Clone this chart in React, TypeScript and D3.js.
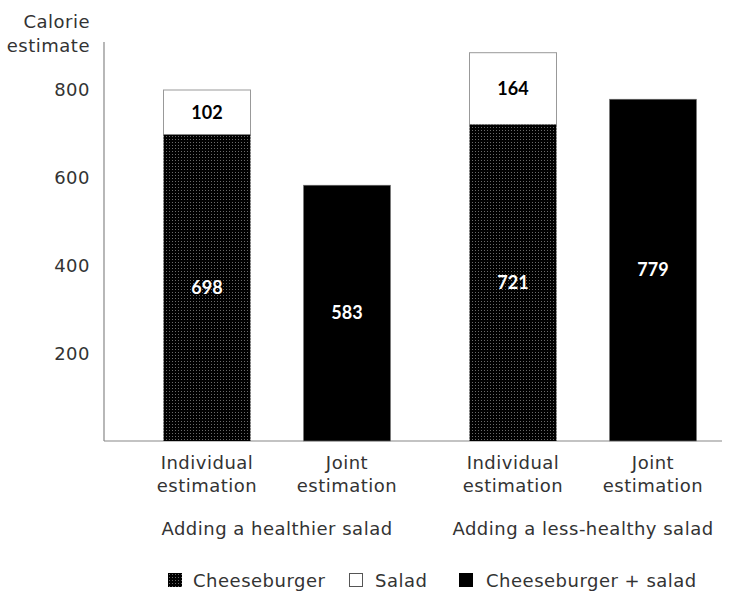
import React from "react";
import * as d3 from "d3";

const groups = ["Adding a healthier salad", "Adding a less-healthy salad"];
const conditions = ["Individual estimation", "Joint estimation"];
// cheeseburger values for individual estimation
const cheeseburger = [698, 721];
// salad values for individual estimation
const salad = [102, 164];
// joint estimation
const joint = [583, 779];
const yTicks = [200, 400, 600, 800];

const W = 733;
const H = 594;
const FONT = "'DejaVu Sans', sans-serif";
const BFONT = "Lato, 'Noto Sans', sans-serif";
const LS = 0.5;

export default function App() {
  const y = d3.scaleLinear().domain([0, 800]).range([441, 90]);
  const xg = d3.scalePoint<string>().domain(groups).range([277, 583]);
  const xi = d3
    .scaleBand<string>()
    .domain(conditions)
    .range([-113.5, 113.5])
    .paddingInner(53 / 140)
    .paddingOuter(0);
  const bw = xi.bandwidth();
  const axisColor = "#888";
  const textColor = "#333";

  const txt = { fontFamily: FONT, fontSize: 18, fill: textColor, letterSpacing: LS } as const;

  return (
    <svg width={W} height={H} style={{ position: "absolute", left: 0, top: 0 }}>
      <defs>
        <pattern id="dots" width={3} height={3} patternUnits="userSpaceOnUse">
          <rect width={3} height={3} fill="#000" />
          <rect x={1} y={1} width={1} height={1} fill="#6a6a6a" />
        </pattern>
      </defs>
      <rect width={W} height={H} fill="#fff" />
      {/* axes */}
      <line x1={104} x2={104} y1={42} y2={441} stroke={axisColor} strokeWidth={1.2} />
      <line x1={104} x2={722} y1={441} y2={441} stroke={axisColor} strokeWidth={1.2} />
      <text x={90} y={28} textAnchor="end" {...txt}>
        Calorie
      </text>
      <text x={90} y={52} textAnchor="end" {...txt}>
        estimate
      </text>
      {yTicks.map((t) => (
        <text key={t} x={90} y={y(t)} dy="0.35em" textAnchor="end" {...txt}>
          {t}
        </text>
      ))}
      {groups.map((g, i) => {
        const gx = xg(g)!;
        const xInd = gx + xi(conditions[0])!;
        const xJ = gx + xi(conditions[1])!;
        const cb = cheeseburger[i];
        const total = cb + salad[i];
        return (
          <g key={g}>
            {/* salad */}
            <rect x={xInd} y={y(total)} width={bw} height={y(cb) - y(total)} fill="#fff" stroke="#999" strokeWidth={1} />
            {/* cheeseburger */}
            <rect x={xInd} y={y(cb)} width={bw} height={y(0) - y(cb)} fill="url(#dots)" />
            {/* joint */}
            <rect x={xJ} y={y(joint[i])} width={bw} height={y(0) - y(joint[i])} fill="#000" stroke="#777" strokeWidth={0.6} />
            <text x={xInd + bw / 2} y={y(cb + salad[i] / 2)} dy="0.35em" textAnchor="middle" fontFamily={BFONT} fontWeight="bold" fontSize={18} fill="#000">
              {salad[i]}
            </text>
            <text x={xInd + bw / 2} y={y(cb / 2)} dy="0.35em" textAnchor="middle" fontFamily={BFONT} fontWeight="bold" fontSize={18} fill="#fff">
              {cb}
            </text>
            <text x={xJ + bw / 2} y={y(joint[i] / 2)} dy="0.35em" textAnchor="middle" fontFamily={BFONT} fontWeight="bold" fontSize={18} fill="#fff">
              {joint[i]}
            </text>
            {conditions.map((c) => {
              const [a, b] = c.split(" ");
              const cx = gx + xi(c)! + bw / 2;
              return (
                <g key={c}>
                  <text x={cx} y={469} textAnchor="middle" {...txt}>
                    {a}
                  </text>
                  <text x={cx} y={492} textAnchor="middle" {...txt}>
                    {b}
                  </text>
                </g>
              );
            })}
            <text x={gx} y={535} textAnchor="middle" {...txt}>
              {g}
            </text>
          </g>
        );
      })}
      {/* legend */}
      <g>
        <rect x={168} y={573} width={14} height={14} fill="url(#dots)" />
        <text x={193} y={587} {...txt}>Cheeseburger</text>
        <rect x={349.5} y={573.5} width={13} height={13} fill="#fff" stroke="#555" strokeWidth={1} />
        <text x={375} y={587} {...txt}>Salad</text>
        <rect x={459} y={573} width={14} height={14} fill="#000" />
        <text x={486} y={587} {...txt}>Cheeseburger + salad</text>
      </g>
    </svg>
  );
}
